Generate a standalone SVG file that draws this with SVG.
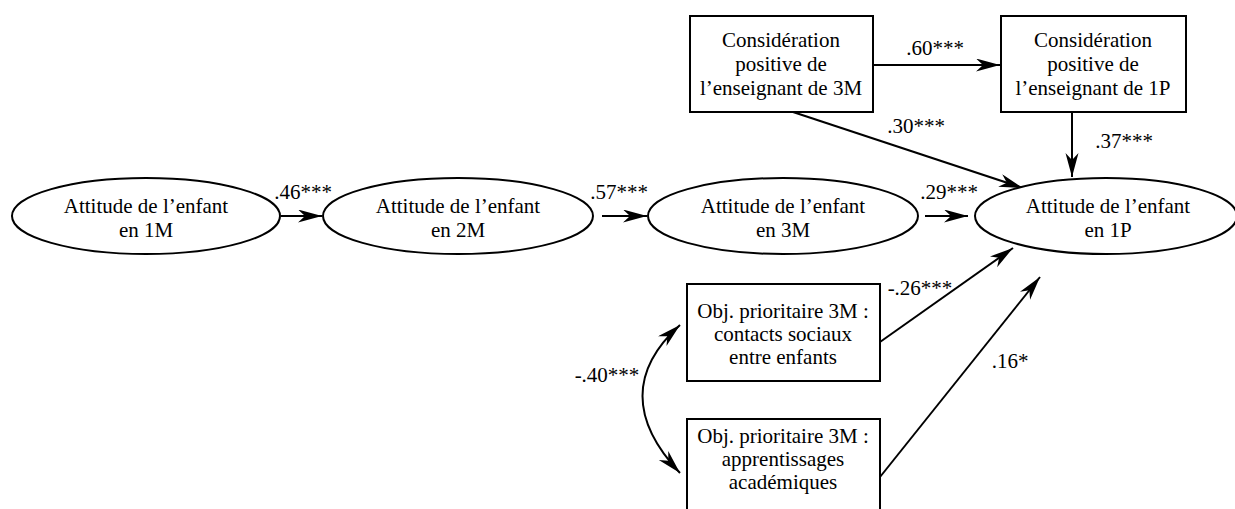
<svg xmlns="http://www.w3.org/2000/svg" width="1235" height="509" viewBox="0 0 1235 509">
<style>
text{font-family:"Liberation Serif","Times New Roman",serif;font-size:21px;fill:#000}
.c{text-anchor:middle}
.n{fill:#fff;stroke:#000;stroke-width:2}
.e{fill:none;stroke:#000;stroke-width:2}
</style>
<defs>
<marker id="ah" markerUnits="userSpaceOnUse" markerWidth="26" markerHeight="14" refX="24" refY="6.5" orient="auto-start-reverse">
<path d="M0,0 L24,6.5 L0,13 L7,6.5 z" fill="#000"/>
</marker>
</defs>
<rect width="1235" height="509" fill="#fff"/>
<g id="connectors">
<line class="e" x1="281" y1="216" x2="322" y2="216" marker-end="url(#ah)"/>
<line class="e" x1="602" y1="216" x2="647" y2="216" marker-end="url(#ah)"/>
<line class="e" x1="925" y1="216" x2="968" y2="216" marker-end="url(#ah)"/>
<line class="e" x1="873" y1="65" x2="1000" y2="65" marker-end="url(#ah)"/>
<line class="e" x1="1072" y1="112" x2="1072" y2="177" marker-end="url(#ah)"/>
<line class="e" x1="793" y1="112" x2="1023" y2="188" marker-end="url(#ah)"/>
<line class="e" x1="880" y1="342" x2="1013" y2="248" marker-end="url(#ah)"/>
<line class="e" x1="880" y1="477" x2="1040" y2="277" marker-end="url(#ah)"/>
<path class="e" d="M680,325 C630,370 630,420 680,473" marker-start="url(#ah)" marker-end="url(#ah)"/>
<text class="c" x="303" y="199">.46***</text>
<text class="c" x="619" y="199">.57***</text>
<text class="c" x="949" y="199">.29***</text>
<text class="c" x="935" y="55">.60***</text>
<text class="c" x="916" y="133">.30***</text>
<text class="c" x="1124" y="148">.37***</text>
<text class="c" x="920" y="295">-.26***</text>
<text class="c" x="1010" y="368">.16*</text>
<text class="c" x="607" y="382">-.40***</text>
</g>
<g id="n1">
<ellipse class="n" cx="146" cy="216" rx="134" ry="38"/>
<text class="c" x="146" y="213">Attitude de l’enfant</text>
<text class="c" x="146" y="237">en 1M</text>
</g>
<g id="n2">
<ellipse class="n" cx="458" cy="216" rx="135" ry="38"/>
<text class="c" x="458" y="213">Attitude de l’enfant</text>
<text class="c" x="458" y="237">en 2M</text>
</g>
<g id="n3">
<ellipse class="n" cx="783" cy="216" rx="135" ry="38"/>
<text class="c" x="783" y="213">Attitude de l’enfant</text>
<text class="c" x="783" y="237">en 3M</text>
</g>
<g id="n4">
<ellipse class="n" cx="1106" cy="216" rx="131" ry="38"/>
<text class="c" x="1108" y="213">Attitude de l’enfant</text>
<text class="c" x="1108" y="237">en 1P</text>
</g>
<g id="n5">
<rect class="n" x="690" y="16" width="183" height="96"/>
<text class="c" x="781" y="47">Considération</text>
<text class="c" x="781" y="71">positive de</text>
<text class="c" x="781" y="95">l’enseignant de 3M</text>
</g>
<g id="n6">
<rect class="n" x="1001" y="16" width="185" height="96"/>
<text class="c" x="1093" y="47">Considération</text>
<text class="c" x="1093" y="71">positive de</text>
<text class="c" x="1093" y="95">l’enseignant de 1P</text>
</g>
<g id="n7">
<rect class="n" x="687" y="284" width="193" height="97"/>
<text class="c" x="783" y="318">Obj. prioritaire 3M :</text>
<text class="c" x="783" y="341">contacts sociaux</text>
<text class="c" x="783" y="364">entre enfants</text>
</g>
<g id="n8">
<rect class="n" x="687" y="419" width="193" height="100"/>
<text class="c" x="783" y="443">Obj. prioritaire 3M :</text>
<text class="c" x="783" y="466">apprentissages</text>
<text class="c" x="783" y="489">académiques</text>
</g>
</svg>
